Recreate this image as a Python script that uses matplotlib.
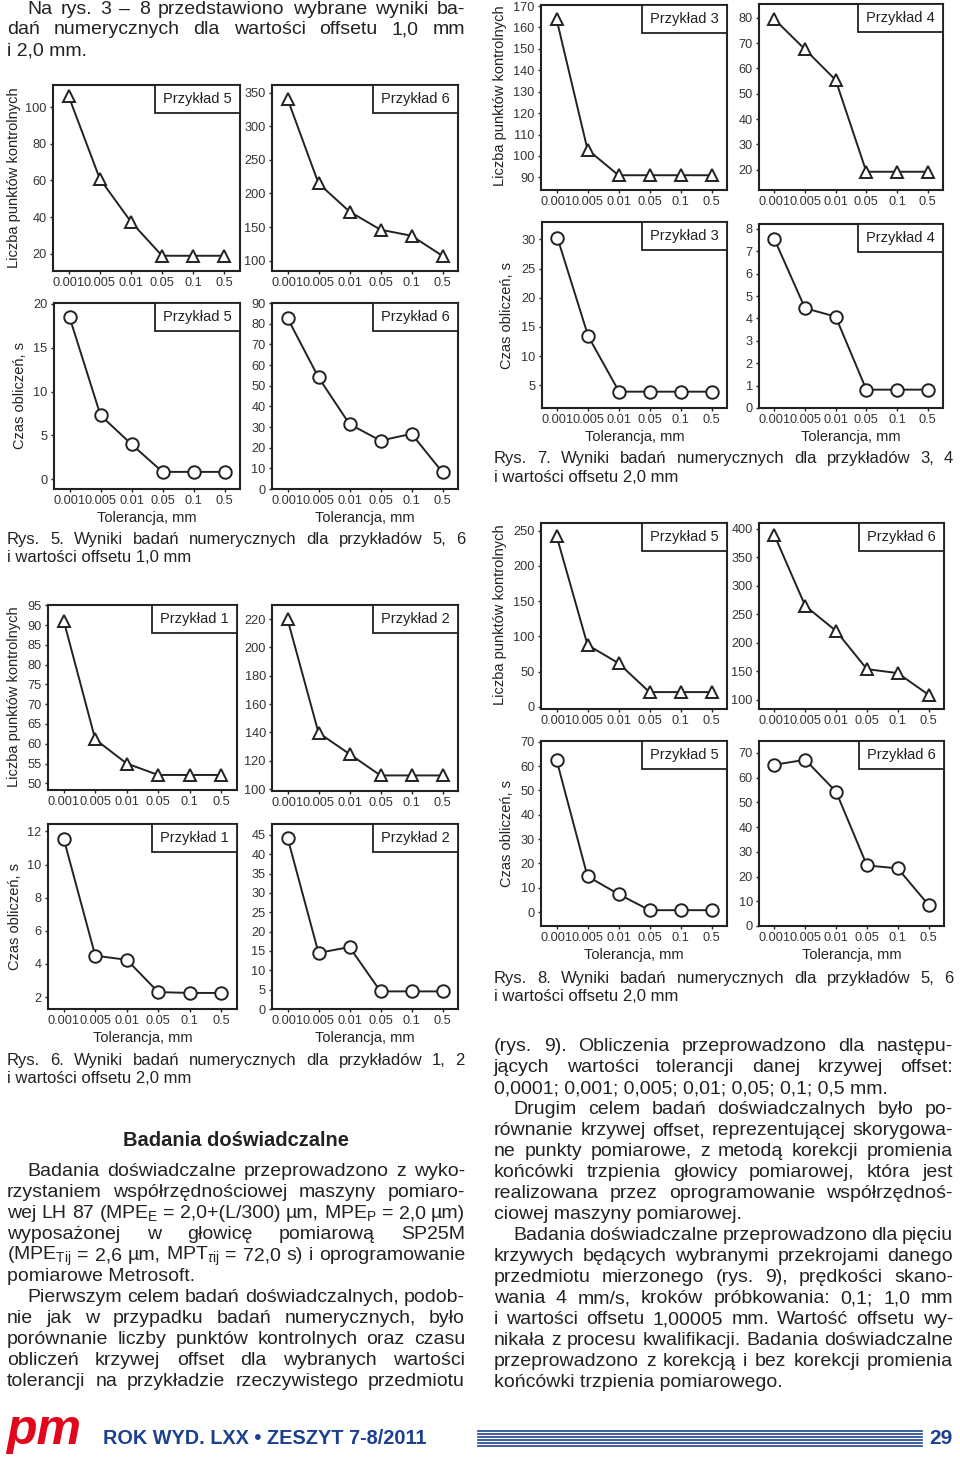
import numpy as np
import matplotlib
matplotlib.use('Agg')
import matplotlib.pyplot as plt
from matplotlib.patches import Rectangle
from matplotlib import rcParams

ink = '#222222'
blue = '#1d3f8f'

rcParams['font.family'] = ['Liberation Sans', 'DejaVu Sans']
rcParams['mathtext.fontset'] = 'custom'
rcParams['mathtext.rm'] = 'Liberation Sans'
rcParams['mathtext.it'] = 'Liberation Sans:italic'
rcParams['mathtext.bf'] = 'Liberation Sans:bold'
rcParams['text.color'] = ink

# Data.

tol = ['0.001', '0.005', '0.01', '0.05', '0.1', '0.5']

# Rys. 5 - offset 1,0 mm
pts_p5_off1 = [106, 61, 37.5, 19, 19, 19]
pts_p6_off1 = [341, 215, 173, 146, 137, 107]
time_p5_off1 = [18.5, 7.3, 4.0, 0.85, 0.85, 0.85]
time_p6_off1 = [82.7, 54, 31.4, 23.4, 26.7, 8.1]

# Rys. 7 - offset 2,0 mm
pts_p3 = [164, 103, 91, 91, 91, 91]
pts_p4 = [79.4, 67.5, 55.4, 19.2, 19.2, 19.2]
time_p3 = [30.3, 13.4, 3.9, 3.9, 3.9, 3.9]
time_p4 = [7.55, 4.46, 4.08, 0.82, 0.82, 0.82]

# Rys. 6 - offset 2,0 mm
pts_p1 = [91.1, 61.1, 55, 52.1, 52.1, 52.1]
pts_p2 = [220, 139.8, 124.7, 109.6, 109.6, 109.6]
time_p1 = [11.55, 4.5, 4.25, 2.3, 2.25, 2.25]
time_p2 = [44.3, 14.5, 16.0, 4.55, 4.55, 4.55]

# Rys. 8 - offset 2,0 mm
pts_p5_off2 = [243, 88, 62, 21, 21, 21]
pts_p6_off2 = [389, 265, 221, 154, 147, 109]
time_p5_off2 = [62.6, 14.7, 7.4, 0.8, 0.8, 0.8]
time_p6_off2 = [65.2, 67.2, 54.3, 24.5, 23.3, 8.5]

W, H = 960, 1458
fig = plt.figure(figsize=(W / 100, H / 100), dpi=100)
fig.patch.set_facecolor('white')

# Full page axes in pixel coordinates for the text and decoration.
bg = fig.add_axes([0, 0, 1, 1])
bg.set_xlim(0, W)
bg.set_ylim(H, 0)
bg.axis('off')

renderer = fig.canvas.get_renderer()


def panel(box, vals, marker, name, ylim, yticks, xlabel=False):
    l, t, r, b = box
    ax = fig.add_axes([l / W, 1 - b / H, (r - l) / W, (b - t) / H])
    ax.plot(range(len(tol)), vals, color=ink, lw=1.4, marker=marker, ms=9,
            mfc='white', mec=ink, mew=1.4, clip_on=False, zorder=3)
    ax.set_xlim(-0.5, len(tol) - 0.5)
    ax.set_ylim(*ylim)
    ax.set_yticks(yticks)
    ax.set_xticks(range(len(tol)))
    ax.set_xticklabels(tol)
    ax.tick_params(direction='out', length=2.5, width=1, pad=2,
                   labelsize=9.2, color=ink, labelcolor='#333333')
    for s in ax.spines.values():
        s.set_linewidth(1.5)
        s.set_color(ink)
    bw, bh = 85 / (r - l), 28 / (b - t)
    ax.add_patch(Rectangle((1 - bw, 1 - bh), bw, bh, transform=ax.transAxes,
                           fc='white', ec=ink, lw=1.3, zorder=4))
    ax.text(1 - bw / 2, 1 - bh / 2, name, transform=ax.transAxes,
            ha='center', va='center', fontsize=10.5, zorder=5)
    if xlabel:
        bg.text((l + r) / 2, b + 29, 'Tolerancja, mm', fontsize=10.5,
                ha='center', va='center')
    return ax


# Rys. 5
panel((53, 85, 240, 271), pts_p5_off1, '^', 'Przykład 5', (10.7, 112), range(20, 101, 20))
panel((272, 85, 458, 271), pts_p6_off1, '^', 'Przykład 6', (84.5, 361.5), range(100, 351, 50))
panel((54, 303, 240, 489), time_p5_off1, 'o', 'Przykład 5', (-1.1, 20.1), range(0, 21, 5), True)
panel((272, 303, 458, 489), time_p6_off1, 'o', 'Przykład 6', (0, 90), range(0, 91, 10), True)

# Rys. 7
panel((541, 5, 727, 190), pts_p3, '^', 'Przykład 3', (84.1, 170.5), range(90, 171, 10))
panel((759, 4, 943, 190), pts_p4, '^', 'Przykład 4', (12, 85.4), range(20, 81, 10))
panel((542, 222, 727, 408), time_p3, 'o', 'Przykład 3', (1.1, 33), range(5, 31, 5), True)
panel((759, 224, 943, 408), time_p4, 'o', 'Przykład 4', (0, 8.22), range(0, 9), True)

# Rys. 6
panel((48, 605, 237, 790), pts_p1, '^', 'Przykład 1', (48.3, 95.1), range(50, 96, 5))
panel((272, 605, 458, 791), pts_p2, '^', 'Przykład 2', (98.6, 230), range(100, 221, 20))
panel((48, 824, 237, 1009), time_p1, 'o', 'Przykład 1', (1.28, 12.45), range(2, 13, 2), True)
panel((272, 824, 458, 1009), time_p2, 'o', 'Przykład 2', (0, 47.8), range(0, 46, 5), True)

# Rys. 8
panel((541, 523, 727, 709), pts_p5_off2, '^', 'Przykład 5', (-3, 261), range(0, 251, 50))
panel((759, 523, 944, 709), pts_p6_off2, '^', 'Przykład 6', (84, 410.5), range(100, 401, 50))
panel((541, 741, 727, 926), time_p5_off2, 'o', 'Przykład 5', (-5.7, 70.3), range(0, 71, 10), True)
panel((759, 741, 944, 926), time_p6_off2, 'o', 'Przykład 6', (0, 74.8), range(0, 71, 10), True)

# Axis titles
ylab_pts = 'Liczba punktów kontrolnych'
ylab_time = 'Czas obliczeń, s'
for x, y, s in [(14, 178, ylab_pts), (14, 697, ylab_pts), (500, 96, ylab_pts),
                (500, 615, ylab_pts), (20, 395, ylab_time), (15, 916, ylab_time),
                (507, 315, ylab_time), (507, 833, ylab_time)]:
    bg.text(x, y, s, rotation=90, fontsize=10.5, ha='center', va='center')


def put_line(s, x0, x1, yc, size, justify=True, **kw):
    yb = yc + 0.26 * size * 100 / 72
    if not justify:
        bg.text(x0, yb, s, fontsize=size, va='baseline', ha='left', **kw)
        return
    words = s.split()
    while True:
        ts = [bg.text(x0, yb, w, fontsize=size, va='baseline', ha='left', **kw)
              for w in words]
        widths = [t.get_window_extent(renderer).width for t in ts]
        gap = (x1 - x0 - sum(widths)) / (len(words) - 1)
        if gap >= 0.2 * size * 100 / 72:
            break
        for t in ts:
            t.remove()
        size -= 0.25
    x = x0
    for t, w in zip(ts, widths):
        t.set_x(x)
        x += w + gap


body = 14.0
cap = 12

# Text above the figures
put_line('Na rys. 3 – 8 przedstawiono wybrane wyniki ba-', 27, 465, 9, body)
put_line('dań numerycznych dla wartości offsetu 1,0 mm', 7, 465, 29, body)
put_line('i 2,0 mm.', 7, 465, 50, body, False)

# Captions
put_line('Rys. 5. Wyniki badań numerycznych dla przykładów 5, 6', 7, 465, 540, cap)
put_line('i wartości offsetu 1,0 mm', 7, 465, 558, cap, False)
put_line('Rys. 7. Wyniki badań numerycznych dla przykładów 3, 4', 494, 953, 459, cap)
put_line('i wartości offsetu 2,0 mm', 494, 953, 478, cap, False)
put_line('Rys. 6. Wyniki badań numerycznych dla przykładów 1, 2', 7, 465, 1061, cap)
put_line('i wartości offsetu 2,0 mm', 7, 465, 1079, cap, False)
put_line('Rys. 8. Wyniki badań numerycznych dla przykładów 5, 6', 494, 953, 979, cap)
put_line('i wartości offsetu 2,0 mm', 494, 953, 997, cap, False)

bg.text(236, 1140, 'Badania doświadczalne', fontsize=14.5, weight='bold',
        ha='center', va='center')

left_lines = [
    ('Badania doświadczalne przeprowadzono z wyko-', 27, True),
    ('rzystaniem współrzędnościowej maszyny pomiaro-', 7, True),
    (r'wej LH 87 (MPE$_\mathregular{E}$ = 2,0+(L/300) µm, MPE$_\mathregular{P}$ = 2,0 µm)', 7, True),
    ('wyposażonej w głowicę pomiarową SP25M', 7, True),
    (r'(MPE$_\mathregular{Tij}$ = 2,6 µm, MPT$_{\tau\mathregular{ij}}$ = 72,0 s) i oprogramowanie', 7, True),
    ('pomiarowe Metrosoft.', 7, False),
    ('Pierwszym celem badań doświadczalnych, podob-', 27, True),
    ('nie jak w przypadku badań numerycznych, było', 7, True),
    ('porównanie liczby punktów kontrolnych oraz czasu', 7, True),
    ('obliczeń krzywej offset dla wybranych wartości', 7, True),
    ('tolerancji na przykładzie rzeczywistego przedmiotu', 7, True),
]
for i, (s, x0, j) in enumerate(left_lines):
    put_line(s, x0, 465, 1171 + 21 * i, body, j)

right_lines = [
    ('(rys. 9). Obliczenia przeprowadzono dla następu-', 494, True),
    ('jących wartości tolerancji danej krzywej offset:', 494, True),
    ('0,0001; 0,001; 0,005; 0,01; 0,05; 0,1; 0,5 mm.', 494, False),
    ('Drugim celem badań doświadczalnych było po-', 513, True),
    ('równanie krzywej offset, reprezentującej skorygowa-', 494, True),
    ('ne punkty pomiarowe, z metodą korekcji promienia', 494, True),
    ('końcówki trzpienia głowicy pomiarowej, która jest', 494, True),
    ('realizowana przez oprogramowanie współrzędnoś-', 494, True),
    ('ciowej maszyny pomiarowej.', 494, False),
    ('Badania doświadczalne przeprowadzono dla pięciu', 513, True),
    ('krzywych będących wybranymi przekrojami danego', 494, True),
    ('przedmiotu mierzonego (rys. 9), prędkości skano-', 494, True),
    ('wania 4 mm/s, kroków próbkowania: 0,1; 1,0 mm', 494, True),
    ('i wartości offsetu 1,00005 mm. Wartość offsetu wy-', 494, True),
    ('nikała z procesu kwalifikacji. Badania doświadczalne', 494, True),
    ('przeprowadzono z korekcją i bez korekcji promienia', 494, True),
    ('końcówki trzpienia pomiarowego.', 494, False),
]
for i, (s, x0, j) in enumerate(right_lines):
    put_line(s, x0, 953, 1046 + 21 * i, body, j)

# Footer
bg.text(6, 1444, 'pm', fontsize=36, weight='bold', style='italic',
        color='#e3051b', va='baseline', ha='left')
bg.text(103, 1438, 'ROK WYD. LXX • ZESZYT 7-8/2011', fontsize=14.3,
        weight='bold', color=blue, va='center', ha='left')
bg.text(953, 1438, '29', fontsize=15, weight='bold', color=blue,
        va='center', ha='right')
for k in range(6):
    bg.plot([478, 922], [1431 + 3 * k] * 2, color=blue, lw=1.2)

fig.savefig('out.png', dpi=100)
